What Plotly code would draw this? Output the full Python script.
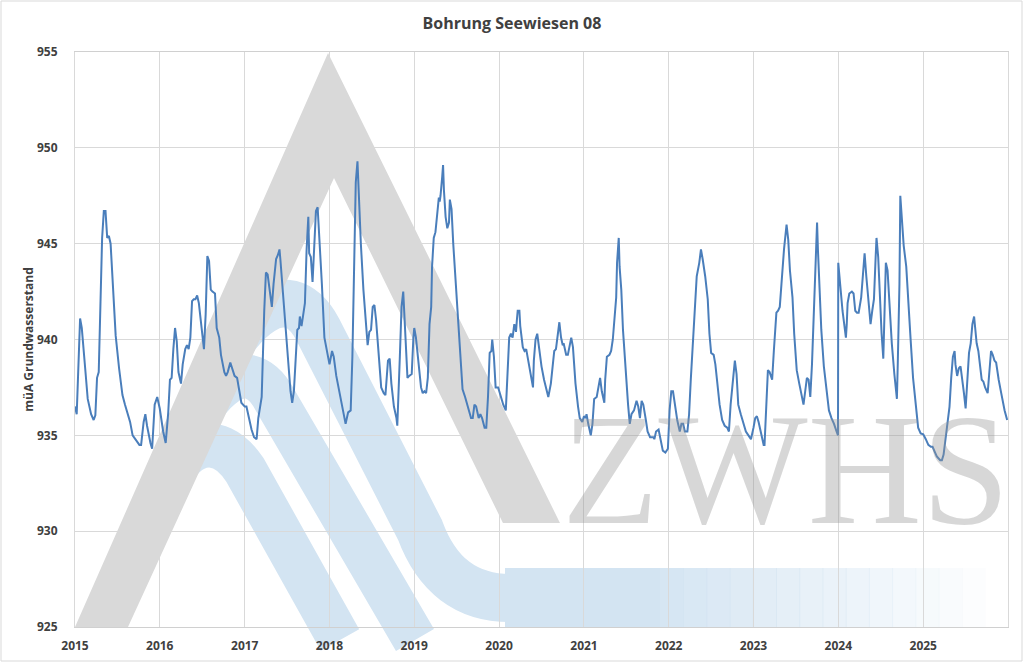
import re
import pandas as pd
import plotly.graph_objects as go

decimal_year = [
    2015.00, 2015.02, 2015.06, 2015.08, 2015.12, 2015.15, 2015.19, 2015.22, 2015.24, 2015.26,
    2015.28, 2015.31, 2015.32, 2015.34, 2015.36, 2015.38, 2015.40, 2015.42, 2015.45, 2015.48,
    2015.52, 2015.56, 2015.59, 2015.62, 2015.65, 2015.68, 2015.73, 2015.76, 2015.78, 2015.81,
    2015.83, 2015.85, 2015.89, 2015.91, 2015.94, 2015.97,
    2016.00, 2016.04, 2016.07, 2016.10, 2016.12, 2016.14, 2016.16, 2016.18, 2016.20, 2016.22,
    2016.25, 2016.27, 2016.30, 2016.32, 2016.34, 2016.36, 2016.38, 2016.40, 2016.42, 2016.44,
    2016.46, 2016.49, 2016.52, 2016.54, 2016.56, 2016.58, 2016.60, 2016.62, 2016.65, 2016.67,
    2016.70, 2016.72, 2016.76, 2016.78, 2016.80, 2016.83, 2016.85, 2016.88, 2016.91, 2016.94,
    2016.96,
    2017.00, 2017.02, 2017.05, 2017.08, 2017.11, 2017.14, 2017.16, 2017.18, 2017.20, 2017.23,
    2017.25, 2017.27, 2017.30, 2017.32, 2017.34, 2017.37, 2017.39, 2017.41, 2017.42, 2017.45,
    2017.48, 2017.51, 2017.54, 2017.56, 2017.58, 2017.60, 2017.62, 2017.64, 2017.65, 2017.67,
    2017.69, 2017.71, 2017.73, 2017.75, 2017.76, 2017.78, 2017.80, 2017.82, 2017.84, 2017.86,
    2017.88, 2017.91, 2017.94, 2017.97,
    2018.00, 2018.03, 2018.05, 2018.08, 2018.12, 2018.16, 2018.19, 2018.22, 2018.25, 2018.27,
    2018.29, 2018.31, 2018.33, 2018.34, 2018.37, 2018.40, 2018.43, 2018.45, 2018.47, 2018.49,
    2018.51, 2018.53, 2018.55, 2018.58, 2018.61, 2018.64, 2018.66, 2018.69, 2018.71, 2018.73,
    2018.76, 2018.79, 2018.80, 2018.83, 2018.85, 2018.87, 2018.88, 2018.90, 2018.92, 2018.94,
    2018.97, 2018.99,
    2019.00, 2019.02, 2019.05, 2019.08, 2019.10, 2019.12, 2019.14, 2019.16, 2019.18, 2019.20,
    2019.21, 2019.23, 2019.25, 2019.27, 2019.29, 2019.30, 2019.31, 2019.33, 2019.34, 2019.35,
    2019.37, 2019.39, 2019.41, 2019.42, 2019.44, 2019.46, 2019.49, 2019.52, 2019.54, 2019.57,
    2019.60, 2019.62, 2019.65, 2019.67, 2019.69, 2019.71, 2019.73, 2019.76, 2019.78, 2019.80,
    2019.83, 2019.85, 2019.87, 2019.89, 2019.91, 2019.92, 2019.94, 2019.96, 2019.99,
    2020.02, 2020.05, 2020.08, 2020.10, 2020.12, 2020.14, 2020.16, 2020.18, 2020.20, 2020.21,
    2020.22, 2020.24, 2020.25, 2020.28, 2020.30, 2020.32, 2020.35, 2020.38, 2020.40, 2020.41,
    2020.43, 2020.45, 2020.47, 2020.50, 2020.53, 2020.56, 2020.58, 2020.61, 2020.63, 2020.65,
    2020.67, 2020.69, 2020.71, 2020.73, 2020.75, 2020.76, 2020.79, 2020.81, 2020.83, 2020.85,
    2020.87, 2020.90, 2020.93, 2020.95, 2020.98,
    2021.00, 2021.02, 2021.03, 2021.05, 2021.08, 2021.10, 2021.12, 2021.15, 2021.17, 2021.19,
    2021.21, 2021.24, 2021.25, 2021.27, 2021.30, 2021.32, 2021.34, 2021.36, 2021.38, 2021.39,
    2021.41, 2021.42, 2021.44, 2021.46, 2021.49, 2021.52, 2021.54, 2021.56, 2021.59, 2021.62,
    2021.64, 2021.66, 2021.68, 2021.70, 2021.73, 2021.75, 2021.78, 2021.82, 2021.83, 2021.85,
    2021.88, 2021.90, 2021.93, 2021.96, 2021.99,
    2022.01, 2022.03, 2022.05, 2022.07, 2022.10, 2022.13, 2022.15, 2022.17, 2022.19, 2022.22,
    2022.24, 2022.26, 2022.29, 2022.31, 2022.33, 2022.36, 2022.38, 2022.40, 2022.43, 2022.46,
    2022.48, 2022.50, 2022.53, 2022.55, 2022.57, 2022.60, 2022.63, 2022.66, 2022.69, 2022.71,
    2022.73, 2022.76, 2022.78, 2022.80, 2022.82, 2022.85, 2022.88, 2022.91, 2022.94, 2022.97,
    2023.00, 2023.02, 2023.04, 2023.06, 2023.09, 2023.12, 2023.13, 2023.15, 2023.17, 2023.19,
    2023.22, 2023.24, 2023.27, 2023.29, 2023.31, 2023.33, 2023.35, 2023.36, 2023.39, 2023.41,
    2023.43, 2023.46, 2023.48, 2023.51, 2023.54, 2023.56, 2023.59, 2023.61, 2023.63, 2023.65,
    2023.67, 2023.69, 2023.71, 2023.73, 2023.75, 2023.76, 2023.78, 2023.80, 2023.83, 2023.86,
    2023.89, 2023.92, 2023.95, 2023.98, 2023.997,
    2024.00, 2024.02, 2024.05, 2024.07, 2024.09, 2024.10, 2024.11, 2024.13, 2024.16, 2024.18,
    2024.20, 2024.22, 2024.24, 2024.27, 2024.29, 2024.31, 2024.33, 2024.36, 2024.38, 2024.40,
    2024.42, 2024.44, 2024.45, 2024.47, 2024.49, 2024.51, 2024.53, 2024.55, 2024.56, 2024.58,
    2024.60, 2024.63, 2024.66, 2024.69, 2024.70, 2024.72, 2024.73, 2024.75, 2024.77, 2024.80,
    2024.82, 2024.85, 2024.88, 2024.91, 2024.94, 2024.97,
    2025.00, 2025.03, 2025.06, 2025.09, 2025.11, 2025.14, 2025.16, 2025.20, 2025.22, 2025.24,
    2025.27, 2025.29, 2025.31, 2025.33, 2025.35, 2025.37, 2025.38, 2025.40, 2025.42, 2025.44,
    2025.46, 2025.48, 2025.50, 2025.52, 2025.54, 2025.56, 2025.58, 2025.60, 2025.61, 2025.63,
    2025.65, 2025.67, 2025.69, 2025.71, 2025.73, 2025.76, 2025.78, 2025.80, 2025.82, 2025.84,
    2025.86, 2025.87, 2025.89, 2025.92, 2025.94, 2025.96, 2025.99,
]

grundwasserstand = [
    936.5, 936.1, 941.1, 940.6, 938.5, 936.9, 936.1, 935.8, 936.05, 938.0,
    938.3, 943.0, 945.3, 946.7, 946.7, 945.3, 945.4, 945.0, 942.7, 940.2,
    938.5, 937.1, 936.6, 936.2, 935.7, 935.0, 934.7, 934.5, 934.5, 935.7,
    936.1, 935.5, 934.6, 934.3, 936.6, 937.0,
    936.4, 935.2, 934.6, 936.2, 937.9, 938.0, 939.5, 940.6, 939.9, 938.3,
    937.7, 938.7, 939.5, 939.7, 939.5, 940.1, 942.0, 942.1, 942.1, 942.3,
    941.9, 940.6, 939.5, 941.3, 944.35, 944.1, 942.6, 942.5, 942.4, 940.6,
    940.1, 939.2, 938.3, 938.1, 938.3, 938.8, 938.5, 938.1, 938.0, 937.3,
    936.7,
    936.5, 936.5, 935.9, 935.3, 934.9, 934.8, 935.9, 936.6, 937.0, 941.5,
    943.5, 943.4, 942.2, 941.7, 942.9, 944.2, 944.4, 944.7, 944.2, 942.4,
    940.5, 938.6, 937.3, 936.7, 937.3, 938.9, 940.5, 940.6, 941.2, 940.7,
    941.2, 941.9, 944.7, 946.4, 944.5, 944.3, 943.0, 944.7, 946.7, 946.9,
    945.4, 942.9, 940.1, 939.3,
    938.7, 939.4, 939.1, 938.1, 937.2, 936.3, 935.6, 936.2, 936.3, 939.1,
    943.8, 948.2, 949.3, 948.0, 945.0, 942.6, 940.7, 939.7, 940.4, 940.5,
    941.7, 941.8, 941.0, 939.1, 937.5, 937.2, 937.1, 938.9, 939.0, 937.7,
    936.5, 935.9, 935.5, 939.1, 941.7, 942.5, 941.7, 939.4, 938.0, 938.1,
    938.2, 940.1,
    940.6, 940.1, 938.6, 937.5, 937.2, 937.3, 937.2, 938.0, 940.8, 941.7,
    943.8, 945.3, 945.6, 946.4, 947.4, 947.2, 947.5, 948.5, 949.1, 947.8,
    946.4, 945.8, 946.1, 947.3, 946.8, 945.0, 942.9, 940.5, 939.1, 937.4,
    937.0, 936.7, 936.3, 935.9, 935.9, 936.6, 936.5, 935.9, 936.1, 935.9,
    935.4, 935.4, 937.0, 939.3, 939.4, 940.0, 939.1, 937.5, 937.5,
    937.0, 936.6, 936.3, 938.7, 940.1, 940.3, 940.1, 940.8, 940.4, 941.0,
    941.5, 941.5, 940.7, 939.6, 939.4, 939.5, 938.7, 937.9, 937.5, 938.9,
    940.0, 940.3, 939.6, 938.6, 937.9, 937.4, 937.0, 937.7, 938.7, 939.4,
    939.5, 940.3, 940.9, 940.1, 939.7, 939.8, 939.2, 939.2, 939.6, 940.1,
    939.6, 937.7, 936.5, 935.9, 935.7,
    936.0, 935.9, 936.1, 935.6, 935.0, 935.6, 936.9, 937.0, 937.5, 938.0,
    937.3, 936.7, 937.9, 939.1, 939.2, 939.4, 940.0, 941.0, 942.2, 944.0,
    945.3, 943.8, 942.6, 940.5, 938.4, 936.6, 935.6, 936.1, 936.3, 936.8,
    936.5, 935.9, 936.8, 936.6, 935.8, 935.2, 934.9, 934.9, 934.8, 935.2,
    935.3, 934.8, 934.2, 934.1, 934.3,
    936.3, 937.3, 937.3, 936.6, 935.8, 935.2, 935.6, 935.6, 935.2, 935.2,
    936.1, 937.9, 940.1, 942.1, 943.3, 944.0, 944.7, 944.2, 943.3, 942.1,
    940.3, 939.3, 939.2, 938.7, 937.9, 936.6, 935.8, 935.5, 935.4, 935.2,
    936.6, 938.0, 938.9, 938.2, 936.6, 936.1, 935.6, 935.2, 935.0, 934.8,
    935.4, 935.9, 936.0, 935.7, 935.1, 934.5, 934.5, 936.6, 938.4, 938.3,
    937.9, 939.4, 941.4, 941.5, 941.7, 942.9, 944.2, 944.7, 946.0, 945.2,
    943.6, 942.2, 940.3, 938.4, 937.7, 937.2, 936.6, 937.3, 938.0, 937.9,
    937.0, 938.7, 941.5, 943.8, 946.1, 944.7, 942.2, 940.5, 938.6, 937.3,
    936.3, 935.9, 935.6, 935.2, 935.0,
    944.0, 942.9, 941.5, 940.8, 940.1, 940.8, 941.9, 942.4, 942.5, 942.4,
    941.5, 941.4, 941.4, 942.2, 943.5, 944.5, 943.3, 941.9, 940.8, 941.5,
    942.1, 944.3, 945.3, 944.3, 942.1, 940.3, 939.0, 942.1, 944.0, 943.6,
    941.9, 939.8, 938.2, 936.9, 938.7, 942.9, 947.5, 946.4, 944.9, 943.8,
    942.1, 940.1, 938.0, 936.6, 935.4, 935.1,
    935.05, 934.8, 934.5, 934.4, 934.4, 934.1, 933.9, 933.7, 933.7, 934.0,
    935.1, 935.9, 936.5, 938.0, 939.1, 939.4, 938.7, 938.1, 938.5, 938.6,
    938.0, 937.2, 936.4, 937.7, 939.3, 939.8, 940.8, 941.2, 940.8, 939.8,
    939.4, 938.7, 937.9, 937.8, 937.5, 937.2, 938.6, 939.4, 939.2, 938.9,
    938.8, 938.4, 937.9, 937.2, 936.7, 936.3, 935.8,
]

year_ticks = list(range(2015, 2026))


def to_date(t):
    year = int(t)
    start = pd.Timestamp(year=year, month=1, day=1)
    days = (pd.Timestamp(year=year + 1, month=1, day=1) - start).days
    return start + pd.Timedelta(days=(t - year) * days)


dates = [to_date(t) for t in decimal_year]

# Plotbereich in Pixeln (fuer das Hintergrund-Logo)
L, T, R, B = 75, 52, 1008, 627
W, H = R - L, B - T


def to_paper(path):
    def conv(m):
        x, y = float(m.group(1)), float(m.group(2))
        return f"{(x - L) / W:.4f},{(B - y) / H:.4f}"
    return re.sub(r"(-?[\d.]+),(-?[\d.]+)", conv, path)


grey = "#d9d9d9"
light_blue = "#d3e4f2"

shapes = []
# Wellen (beginnen im linken Schenkel des A)
waves = [
    ("M 221,360 C 234,330 285,268 318,330 L 420,530 Q 445,598 510,598", 48),
    ("M 190,430 C 203,400 245,345 275,400 L 415,640", 44),
    ("M 168,480 C 181,450 215,425 245,470 L 340,640", 44),
]
for p, w in waves:
    shapes.append(dict(type="path", xref="paper", yref="paper", path=to_paper(p),
                       line=dict(color=light_blue, width=w), layer="below"))
# Band unten, nach rechts auslaufend
shapes.append(dict(type="rect", xref="paper", yref="paper",
                   x0=(505 - L) / W, x1=(660 - L) / W, y0=0, y1=(B - 568) / H,
                   fillcolor=light_blue, line_width=0, layer="below"))
n_fade = 14
for i in range(n_fade):
    xa = 660 + i * (985 - 660) / n_fade
    xb = 660 + (i + 1) * (985 - 660) / n_fade
    shapes.append(dict(type="rect", xref="paper", yref="paper",
                       x0=(xa - L) / W, x1=(xb - L) / W + 0.001, y0=0, y1=(B - 568) / H,
                       fillcolor=light_blue, opacity=1 - (i + 1) / (n_fade + 1),
                       line_width=0, layer="below"))
# grosses A
shapes.append(dict(type="path", xref="paper", yref="paper",
                   path=to_paper("M 75,627 L 328,53 L 560,523 L 503,523 L 334,178 L 128,627 Z"),
                   fillcolor=grey, line_width=0, layer="below"))
# Rahmen um das ganze Diagramm
shapes.append(dict(type="rect", xref="paper", yref="paper",
                   x0=(1 - L) / W, x1=(1022 - L) / W, y0=(B - 661) / H, y1=(B - 1) / H,
                   line=dict(color="#d9d9d9", width=1), fillcolor="rgba(0,0,0,0)"))

fig = go.Figure()
fig.add_trace(go.Scatter(
    x=dates, y=grundwasserstand, mode="lines", name="Grundwasserstand",
    line=dict(color="#4a7ebb", width=2),
    hovertemplate="%{x|%d.%m.%Y}<br>%{y:.2f} müA<extra></extra>",
))

fig.update_layout(
    width=1024, height=663,
    margin=dict(l=L, r=1024 - R, t=T, b=663 - B, autoexpand=False),
    paper_bgcolor="white", plot_bgcolor="rgba(0,0,0,0)",
    showlegend=False,
    font=dict(family="Open Sans, Arial, sans-serif", color="#404040"),
    title=dict(text="Bohrung Seewiesen 08", x=0.5, xanchor="center",
               y=1 - 23 / 663, yanchor="middle",
               font=dict(size=16, weight="bold", color="#404040")),
    xaxis=dict(
        type="date", range=["2015-01-01", "2026-01-01"], automargin=False,
        tickvals=[pd.Timestamp(year=y, month=1, day=1) for y in year_ticks],
        ticktext=[str(y) for y in year_ticks],
        showgrid=True, gridcolor="#d9d9d9", gridwidth=1,
        showline=True, linecolor="#d0d0d0", linewidth=1, mirror=True,
        ticks="", ticklabelstandoff=8,
        tickfont=dict(size=12, weight="bold", color="#404040"),
        zeroline=False,
    ),
    yaxis=dict(
        range=[925, 955], tick0=925, dtick=5, automargin=False,
        showgrid=True, gridcolor="#d9d9d9", gridwidth=1,
        showline=True, linecolor="#d9d9d9", linewidth=1, mirror=True,
        ticks="", ticklabelstandoff=14,
        tickfont=dict(size=12, weight="bold", color="#404040"),
        title=dict(text="müA Grundwasserstand", standoff=0,
                   font=dict(size=12, weight="bold", color="#404040")),
        zeroline=False,
    ),
    shapes=shapes,
    annotations=[dict(
        xref="paper", yref="paper", x=(1012 - L) / W, y=(B - 525) / H,
        xanchor="right", yanchor="bottom", yshift=-34,
        text="ZWHS", showarrow=False,
        font=dict(family="Liberation Serif, Times New Roman, serif", size=158,
                  color="rgba(150,150,150,0.38)"),
    )],
)

fig.write_html("out.html", config={"displayModeBar": False},
               post_script="document.body.style.margin='0';")
